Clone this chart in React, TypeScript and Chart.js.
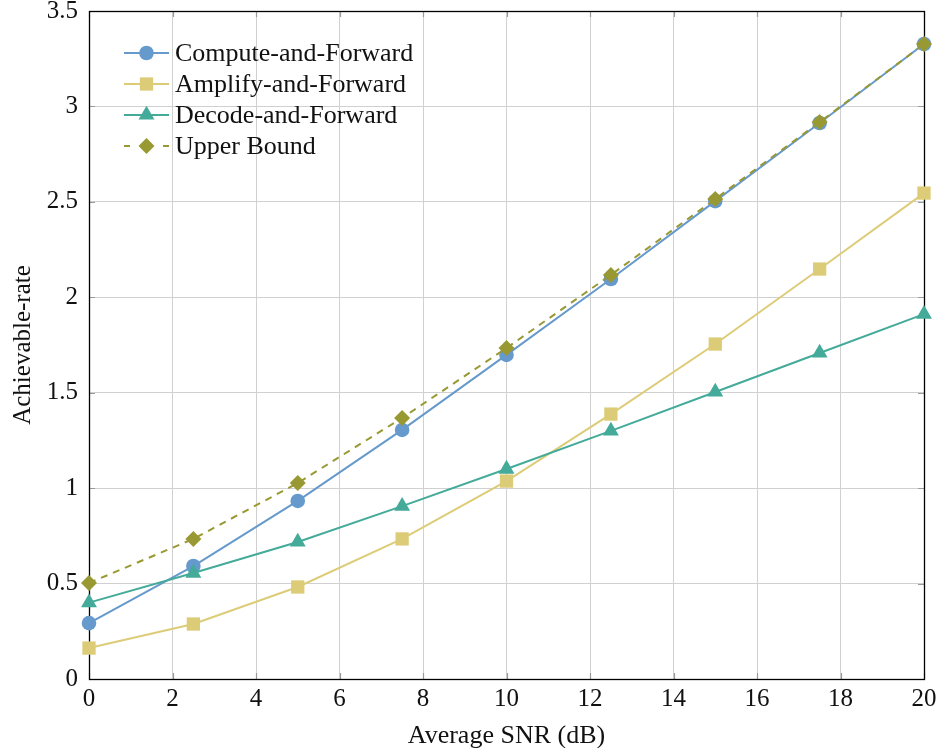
import React, { useEffect, useRef } from 'react';
import { Chart, registerables } from 'chart.js';

Chart.register(...registerables);

const snr = [0, 2.5, 5, 7.5, 10, 12.5, 15, 17.5, 20];
const computeForward = [0.293, 0.592, 0.933, 1.305, 1.698, 2.096, 2.504, 2.913, 3.327];
const amplifyForward = [0.162, 0.288, 0.482, 0.734, 1.037, 1.388, 1.755, 2.148, 2.546];
const decodeForward = [0.4, 0.555, 0.718, 0.906, 1.1, 1.3, 1.504, 1.708, 1.912];
const upperBound = [0.503, 0.734, 1.027, 1.368, 1.734, 2.117, 2.515, 2.918, 3.327];

const seriesNames = ['Compute-and-Forward', 'Amplify-and-Forward', 'Decode-and-Forward', 'Upper Bound'];
const xTicks = [0, 2, 4, 6, 8, 10, 12, 14, 16, 18, 20];
const yTicks = [0, 0.5, 1, 1.5, 2, 2.5, 3, 3.5];

const FONT = "'Liberation Serif', 'Times New Roman', serif";
const FS = 25;
const FS_BIG = 26;

const colors = ['#6699cc', '#ddcc77', '#44aa99', '#999933'];
const pointStyles = ['circle', 'rect', 'triangle', 'rectRot'];
const pointRadii = [7.3, 9.4, 9.2, 8];
const dashes: number[][] = [[], [], [], [7, 6]];

function drawMarker(ctx: CanvasRenderingContext2D, style: string, r: number, x: number, y: number) {
  ctx.beginPath();
  if (style === 'circle') {
    ctx.arc(x, y, r, 0, Math.PI * 2);
  } else if (style === 'rect') {
    const s = r * Math.SQRT1_2;
    ctx.rect(x - s, y - s, 2 * s, 2 * s);
  } else if (style === 'triangle') {
    let rad = 0;
    ctx.moveTo(x + Math.sin(rad) * r, y - Math.cos(rad) * r);
    rad += (2 * Math.PI) / 3;
    ctx.lineTo(x + Math.sin(rad) * r, y - Math.cos(rad) * r);
    rad += (2 * Math.PI) / 3;
    ctx.lineTo(x + Math.sin(rad) * r, y - Math.cos(rad) * r);
    ctx.closePath();
  } else {
    ctx.moveTo(x - r, y);
    ctx.lineTo(x, y - r);
    ctx.lineTo(x + r, y);
    ctx.lineTo(x, y + r);
    ctx.closePath();
  }
  ctx.fill();
}

const framePlugin = {
  id: 'frameTicks',
  beforeDatasetsDraw(chart: any) {
    const { ctx, chartArea: a, scales } = chart;
    ctx.save();
    ctx.strokeStyle = '#9a9a9a';
    ctx.lineWidth = 1.2;
    const len = 6;
    for (const v of xTicks) {
      const x = Math.round(scales.x.getPixelForValue(v)) + 0.5;
      ctx.beginPath();
      ctx.moveTo(x, a.bottom);
      ctx.lineTo(x, a.bottom - len);
      ctx.moveTo(x, a.top);
      ctx.lineTo(x, a.top + len);
      ctx.stroke();
    }
    for (const v of yTicks) {
      const y = Math.round(scales.y.getPixelForValue(v)) + 0.5;
      ctx.beginPath();
      ctx.moveTo(a.left, y);
      ctx.lineTo(a.left + len, y);
      ctx.moveTo(a.right, y);
      ctx.lineTo(a.right - len, y);
      ctx.stroke();
    }
    ctx.strokeStyle = '#000';
    ctx.lineWidth = 1.3;
    ctx.strokeRect(Math.round(a.left) + 0.5, Math.round(a.top) + 0.5, Math.round(a.right - a.left), Math.round(a.bottom - a.top));
    ctx.restore();
  },
};

const legendPlugin = {
  id: 'customLegend',
  afterDatasetsDraw(chart: any) {
    const { ctx, chartArea: a } = chart;
    ctx.save();
    const x0 = a.left + 35;
    const y0 = a.top + 42;
    const rowH = 31;
    ctx.font = `${FS_BIG}px ${FONT}`;
    ctx.textBaseline = 'middle';
    ctx.textAlign = 'left';
    seriesNames.forEach((name, i) => {
      const y = y0 + i * rowH;
      ctx.strokeStyle = colors[i];
      ctx.lineWidth = 2;
      ctx.beginPath();
      if (dashes[i].length) {
        ctx.moveTo(x0, y);
        ctx.lineTo(x0 + 6, y);
        ctx.moveTo(x0 + 39, y);
        ctx.lineTo(x0 + 45, y);
      } else {
        ctx.moveTo(x0, y);
        ctx.lineTo(x0 + 45, y);
      }
      ctx.stroke();
      ctx.fillStyle = colors[i];
      drawMarker(ctx, pointStyles[i], pointRadii[i], x0 + 22.5, y);
      ctx.fillStyle = '#111';
      ctx.fillText(name, x0 + 51, y + 1);
    });
    ctx.restore();
  },
};

export default function App() {
  const ref = useRef<HTMLCanvasElement>(null);
  useEffect(() => {
    document.body.style.margin = '0';
    const seriesData = [computeForward, amplifyForward, decodeForward, upperBound];
    const datasets = seriesData.map((vals, i) => ({
      label: seriesNames[i],
      data: snr.map((x, j) => ({ x, y: vals[j] })),
      borderColor: colors[i],
      backgroundColor: colors[i],
      pointBackgroundColor: colors[i],
      pointBorderColor: colors[i],
      pointBorderWidth: 0,
      pointStyle: pointStyles[i],
      pointRadius: pointRadii[i],
      borderWidth: 2,
      borderDash: dashes[i],
      tension: 0,
      clip: false as any,
      order: 4 - i,
    }));
    const chart = new Chart(ref.current!, {
      type: 'line',
      data: { datasets },
      plugins: [framePlugin, legendPlugin],
      options: {
        animation: false,
        responsive: false,
        devicePixelRatio: 1,
        layout: { padding: { top: 11, right: 14, left: 0, bottom: 0 } },
        plugins: { legend: { display: false }, tooltip: { enabled: false } },
        scales: {
          x: {
            type: 'linear',
            min: 0,
            max: 20,
            afterBuildTicks: (s: any) => { s.ticks = xTicks.map((v) => ({ value: v })); },
            afterFit: (s: any) => { s.height = 69; s.paddingLeft = 0; s.paddingRight = 0; },
            grid: { color: '#d0d0d0', lineWidth: 1, drawTicks: false },
            border: { display: false },
            ticks: {
              padding: 5,
              color: '#111',
              font: { family: FONT, size: FS },
              maxRotation: 0,
              autoSkip: false,
              callback: (v: any) => String(v),
            },
            title: {
              display: true,
              text: 'Average SNR (dB)',
              color: '#111',
              font: { family: FONT, size: FS_BIG },
              padding: { top: 0, bottom: -4 },
            },
          },
          y: {
            type: 'linear',
            min: 0,
            max: 3.5,
            afterBuildTicks: (s: any) => { s.ticks = yTicks.map((v) => ({ value: v })); },
            afterFit: (s: any) => { s.width = 89; s.paddingTop = 0; s.paddingBottom = 0; },
            grid: { color: '#d0d0d0', lineWidth: 1, drawTicks: false },
            border: { display: false },
            ticks: {
              padding: 11,
              color: '#111',
              font: { family: FONT, size: FS },
              autoSkip: false,
              callback: (v: any) => String(v),
            },
            title: {
              display: true,
              text: 'Achievable-rate',
              color: '#111',
              font: { family: FONT, size: FS },
              padding: { top: 8, bottom: 0 },
            },
          },
        },
      },
    });
    return () => chart.destroy();
  }, []);
  return (
    <div style={{ width: 938, height: 748 }}>
      <canvas ref={ref} width={938} height={748} style={{ display: 'block' }} />
    </div>
  );
}
